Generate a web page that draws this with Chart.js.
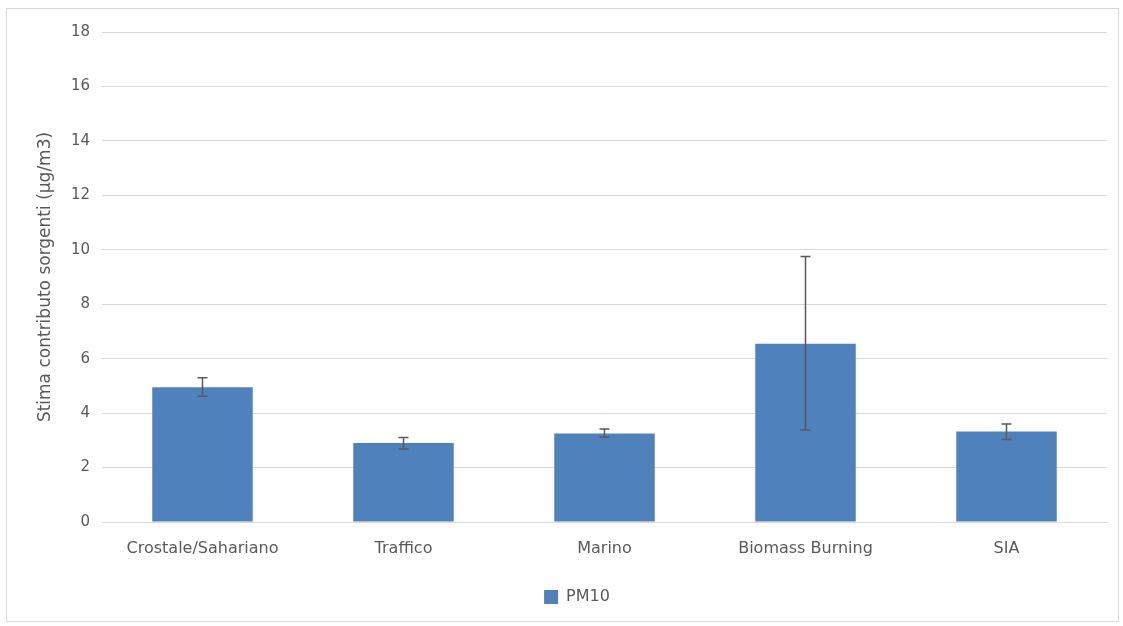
<!DOCTYPE html>
<html>
<head>
<meta charset="utf-8">
<script src="https://cdn.jsdelivr.net/npm/chart.js@4/dist/chart.umd.min.js"></script>
<style>
  html, body { margin: 0; padding: 0; background: #fff; }
  #wrap {
    position: absolute; left: 6px; top: 8px;
    width: 1111px; height: 612px;
    border: 1px solid #d9d9d9; box-sizing: content-box;
  }
</style>
</head>
<body>
<div id="wrap"><canvas id="chart"></canvas></div>
<script>
// Data
const categories = ['Crostale/Sahariano', 'Traffico', 'Marino', 'Biomass Burning', 'SIA'];
const pm10 = [4.95, 2.9, 3.25, 6.55, 3.32];
const errLow = [4.62, 2.68, 3.12, 3.38, 3.03];
const errHigh = [5.3, 3.1, 3.42, 9.75, 3.6];
const yTicks = [0, 2, 4, 6, 8, 10, 12, 14, 16, 18];

const textColor = '#595959';
const gridColor = '#d9d9d9';
const barColor = '#4f81bd';
const fontFamily = 'DejaVu Sans';

// --- Error bars ---
const errorBars = {
    id: 'errorBars',
    afterDatasetsDraw(chart) {
        const ctx = chart.ctx;
        const x = chart.scales.x;
        const y = chart.scales.y;
        ctx.save();
        ctx.strokeStyle = '#5a5a5a';
        ctx.lineWidth = 1.5;
        categories.forEach((c, i) => {
            const px = x.getPixelForValue(i);
            const top = y.getPixelForValue(errHigh[i]);
            const bot = y.getPixelForValue(errLow[i]);
            ctx.beginPath();
            ctx.moveTo(px, top); ctx.lineTo(px, bot);
            ctx.moveTo(px - 5, top); ctx.lineTo(px + 5, top);
            ctx.moveTo(px - 5, bot); ctx.lineTo(px + 5, bot);
            ctx.stroke();
        });
        ctx.restore();
    }
};

// Legend sits a bit right of centre in the original
const legendNudge = {
    id: 'legendNudge',
    afterLayout(chart) {
        chart.legend.left += 20;
        chart.legend.right += 20;
    }
};

new Chart(document.getElementById('chart'), {
    type: 'bar',
    data: {
        labels: categories,
        datasets: [{
            label: 'PM10',
            data: pm10,
            backgroundColor: barColor,
            borderWidth: 0,
            barPercentage: 1,
            categoryPercentage: 0.5
        }]
    },
    options: {
        responsive: true,
        maintainAspectRatio: false,
        animation: false,
        layout: { padding: { left: 0, right: 11, top: 23, bottom: 6 } },
        plugins: {
            tooltip: { enabled: false },
            legend: {
                position: 'bottom',
                labels: {
                    color: textColor,
                    boxWidth: 14,
                    boxHeight: 14,
                    padding: 10,
                    font: { family: fontFamily, size: 16 }
                }
            }
        },
        scales: {
            x: {
                grid: { display: false, drawTicks: false },
                border: { color: gridColor, width: 1 },
                ticks: {
                    color: textColor,
                    padding: 17,
                    font: { family: fontFamily, size: 16 },
                    maxRotation: 0
                },
                afterFit: s => { s.height = 57; }
            },
            y: {
                min: 0,
                max: 18,
                afterBuildTicks: s => { s.ticks = yTicks.map(v => ({ value: v })); },
                grid: { color: gridColor, lineWidth: 1, drawTicks: false },
                border: { display: false },
                ticks: {
                    color: textColor,
                    padding: 12,
                    font: { family: fontFamily, size: 15 }
                },
                title: {
                    display: true,
                    text: 'Stima contributo sorgenti (µg/m3)',
                    color: textColor,
                    padding: { top: 28, bottom: 0 },
                    font: { family: fontFamily, size: 17 }
                },
                afterFit: s => { s.width = 95; }
            }
        }
    },
    plugins: [errorBars, legendNudge]
});
</script>
</body>
</html>
